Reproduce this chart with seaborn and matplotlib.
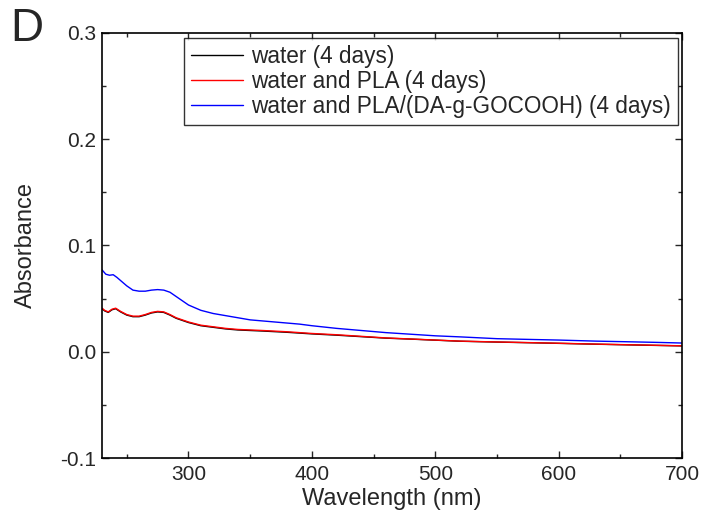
import matplotlib
matplotlib.use("Agg")
import matplotlib.pyplot as plt
import seaborn as sns
import pandas as pd
from matplotlib.ticker import MultipleLocator

wl_blue = [230, 233, 236, 239, 242, 246, 250, 255, 260, 265, 270, 275, 280, 285, 290, 295,
           300, 310, 320, 330, 340, 350, 360, 370, 380, 390, 400, 420, 440, 460, 480, 500,
           520, 550, 580, 600, 630, 660, 680, 700]
abs_blue = [0.077, 0.073, 0.072, 0.0725, 0.070, 0.066, 0.062, 0.058, 0.057, 0.057, 0.058, 0.0585,
            0.058, 0.056, 0.052, 0.048, 0.044, 0.039, 0.036, 0.034, 0.032, 0.030, 0.029, 0.028,
            0.027, 0.026, 0.0245, 0.022, 0.020, 0.018, 0.0165, 0.015, 0.014, 0.0123, 0.0115,
            0.011, 0.010, 0.0093, 0.0088, 0.0082]

wl_red = [230, 232, 235, 238, 241, 245, 250, 255, 260, 265, 270, 275, 280, 285, 290, 295,
          300, 310, 320, 330, 340, 350, 360, 380, 400, 420, 440, 460, 480, 500, 520, 550,
          580, 600, 630, 660, 700]
abs_red = [0.041, 0.039, 0.0375, 0.040, 0.041, 0.038, 0.035, 0.0335, 0.0335, 0.035, 0.037, 0.038,
           0.0375, 0.035, 0.032, 0.030, 0.028, 0.025, 0.0235, 0.022, 0.021, 0.0205, 0.020, 0.0188,
           0.0172, 0.016, 0.0145, 0.013, 0.012, 0.011, 0.010, 0.0092, 0.0085, 0.008, 0.0072,
           0.0065, 0.0056]
abs_black = [0.0405, 0.0385, 0.037, 0.0395, 0.0405, 0.0375, 0.0345, 0.033, 0.033, 0.0345, 0.0365,
             0.0375, 0.037, 0.0345, 0.0315, 0.0295, 0.0275, 0.0245, 0.023, 0.0215, 0.0205, 0.020,
             0.0195, 0.0183, 0.0168, 0.0156, 0.0142, 0.0128, 0.0119, 0.0109, 0.0099, 0.0091,
             0.0084, 0.0079, 0.0071, 0.0064, 0.0055]

labels = ["water (4 days)", "water and PLA (4 days)", "water and PLA/(DA-g-GOCOOH) (4 days)"]
colors = ["black", "red", "blue"]

df = pd.concat([
    pd.DataFrame({"wl": wl_red, "a": abs_black, "s": labels[0]}),
    pd.DataFrame({"wl": wl_red, "a": abs_red, "s": labels[1]}),
    pd.DataFrame({"wl": wl_blue, "a": abs_blue, "s": labels[2]}),
])

sns.set_style("ticks")
plt.rcParams["font.family"] = ["Liberation Sans", "DejaVu Sans"]

fig = plt.figure(figsize=(7.04, 5.22), dpi=100)
ax = fig.add_axes([0.145, 0.1226, 0.824, 0.8142])

sns.lineplot(data=df, x="wl", y="a", hue="s", palette=dict(zip(labels, colors)),
             linewidth=1.0, sort=False, ax=ax)

ax.set_xlim(230, 700)
ax.set_ylim(-0.1, 0.3)
ax.xaxis.set_major_locator(MultipleLocator(100))
ax.xaxis.set_minor_locator(MultipleLocator(50))
ax.yaxis.set_major_locator(MultipleLocator(0.1))
ax.yaxis.set_minor_locator(MultipleLocator(0.05))
ax.set_yticks([-0.1, 0.0, 0.1, 0.2, 0.3])
ax.set_yticklabels(["-0.1", "0.0", "0.1", "0.2", "0.3"])
ax.tick_params(which="both", direction="in", top=True, right=True, labelsize=15, width=1)
ax.tick_params(which="major", length=5)
ax.tick_params(which="minor", length=3)
ax.tick_params(axis="x", which="major", pad=5)
ax.tick_params(axis="y", which="major", pad=4)
for sp in ax.spines.values():
    sp.set_linewidth(1.2)
    sp.set_color("black")

ax.set_xlabel("Wavelength (nm)", fontsize=17, labelpad=3)
ax.set_ylabel("Absorbance", fontsize=17, labelpad=17)

leg = ax.legend(loc="upper right", bbox_to_anchor=(0.992, 0.988), fontsize=16.3, frameon=True,
                fancybox=False, handlelength=2.3, borderpad=0.3, labelspacing=0.1,
                handletextpad=0.35, borderaxespad=0)
leg.get_frame().set_edgecolor("black")
leg.get_frame().set_linewidth(1.0)

fig.text(0.015, 0.922, "D", fontsize=33)

fig.savefig("out.png", dpi=100)
